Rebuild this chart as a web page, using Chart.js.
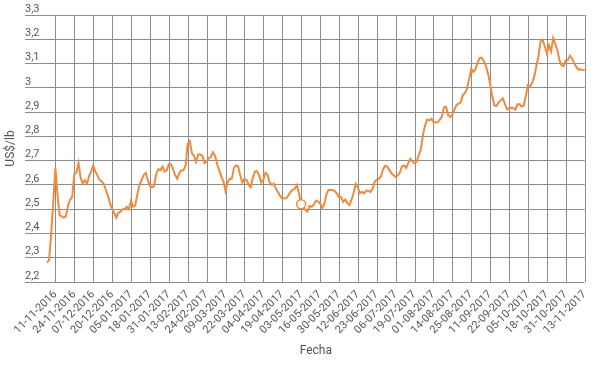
<!DOCTYPE html>
<html>
<head>
<meta charset="utf-8">
<script src="https://cdn.jsdelivr.net/npm/chart.js@4/dist/chart.umd.min.js"></script>
<style>
  body { margin: 0; background: #fff; }
  #wrap { width: 600px; height: 365px; position: relative; }
</style>
</head>
<body>
<div id="wrap"><canvas id="priceChart"></canvas></div>
<script>
// tick labels shown on the x axis (every 9th trading day)
const tickLabels = [
    '11-11-2016', '24-11-2016', '07-12-2016', '20-12-2016', '05-01-2017', '18-01-2017',
    '31-01-2017', '13-02-2017', '24-02-2017', '09-03-2017', '22-03-2017', '04-04-2017',
    '19-04-2017', '03-05-2017', '16-05-2017', '30-05-2017', '12-06-2017', '23-06-2017',
    '06-07-2017', '19-07-2017', '01-08-2017', '14-08-2017', '25-08-2017', '11-09-2017',
    '22-09-2017', '05-10-2017', '18-10-2017', '31-10-2017', '13-11-2017'
];
const firstTick = 4;   // index of the first labelled day
const tickStep = 9;    // days between labels

// daily price, US$/lb
const prices = [
    2.28, 2.29, 2.40, 2.53, 2.67, 2.56, 2.475, 2.47, 2.465, 2.47,
    2.515, 2.54, 2.55, 2.645, 2.65, 2.69, 2.63, 2.605, 2.62, 2.605,
    2.635, 2.655, 2.68, 2.655, 2.64, 2.62, 2.615, 2.605, 2.58, 2.555,
    2.525, 2.50, 2.485, 2.465, 2.485, 2.49, 2.50, 2.50, 2.51, 2.50,
    2.535, 2.51, 2.515, 2.56, 2.60, 2.62, 2.64, 2.65, 2.62, 2.595,
    2.59, 2.595, 2.645, 2.665, 2.66, 2.675, 2.655, 2.66, 2.685, 2.685,
    2.665, 2.64, 2.625, 2.65, 2.66, 2.66, 2.68, 2.77, 2.78, 2.73,
    2.72, 2.695, 2.725, 2.725, 2.72, 2.69, 2.695, 2.71, 2.715, 2.735,
    2.72, 2.685, 2.66, 2.635, 2.615, 2.575, 2.61, 2.625, 2.625, 2.67,
    2.68, 2.677, 2.64, 2.61, 2.625, 2.62, 2.60, 2.59, 2.63, 2.655,
    2.657, 2.64, 2.61, 2.62, 2.65, 2.643, 2.61, 2.60, 2.605, 2.585,
    2.57, 2.555, 2.544, 2.544, 2.546, 2.558, 2.572, 2.58, 2.584, 2.60,
    2.565, 2.52, 2.51, 2.497, 2.49, 2.513, 2.51, 2.517, 2.535, 2.532,
    2.525, 2.505, 2.52, 2.56, 2.579, 2.579, 2.579, 2.575, 2.565, 2.549,
    2.55, 2.53, 2.54, 2.525, 2.517, 2.538, 2.568, 2.604, 2.59, 2.566,
    2.571, 2.565, 2.576, 2.576, 2.57, 2.584, 2.613, 2.622, 2.625, 2.635,
    2.665, 2.679, 2.676, 2.662, 2.648, 2.64, 2.633, 2.64, 2.65, 2.676,
    2.68, 2.67, 2.69, 2.707, 2.696, 2.689, 2.696, 2.723, 2.745, 2.806,
    2.845, 2.869, 2.866, 2.872, 2.86, 2.858, 2.857, 2.869, 2.88, 2.92,
    2.922, 2.887, 2.88, 2.89, 2.91, 2.93, 2.935, 2.94, 2.97, 2.978,
    2.996, 3.035, 3.079, 3.065, 3.075, 3.103, 3.122, 3.124, 3.11, 3.09,
    3.058, 3.015, 2.965, 2.927, 2.925, 2.94, 2.948, 2.957, 2.935, 2.912,
    2.915, 2.919, 2.916, 2.91, 2.932, 2.932, 2.923, 2.927, 2.968, 3.011,
    3.005, 3.021, 3.046, 3.09, 3.13, 3.19, 3.198, 3.171, 3.142, 3.175,
    3.15, 3.205, 3.18, 3.156, 3.114, 3.092, 3.09, 3.113, 3.114, 3.132,
    3.12, 3.102, 3.086, 3.075, 3.076, 3.074, 3.072
];
const markIndex = 121; // highlighted point

const lineColor = '#f08a3c';
const gridColor = '#8c8c8c';
const textColor = '#555';

const isTickDay = i => i >= firstTick && (i - firstTick) % tickStep === 0;
const labels = prices.map((_, i) => isTickDay(i) ? tickLabels[(i - firstTick) / tickStep] : '');

// vertical grid lines only at the labelled days, placed by the x scale
const dayLines = {
    id: 'dayLines',
    beforeDatasetsDraw(chart) {
        const x = chart.scales.x;
        const area = chart.chartArea;
        const g = chart.ctx;
        g.save();
        g.strokeStyle = gridColor;
        g.lineWidth = 1;
        g.beginPath();
        for (let i = 0; i < labels.length; i++) {
            if (!isTickDay(i)) continue;
            const px = Math.round(x.getPixelForValue(i)) + 0.5;
            g.moveTo(px, area.top);
            g.lineTo(px, area.bottom);
        }
        g.stroke();
        g.restore();
    }
};

const ctx = document.getElementById('priceChart').getContext('2d');
new Chart(ctx, {
    type: 'line',
    data: {
        labels: labels,
        datasets: [{
            data: prices,
            borderColor: lineColor,
            borderWidth: 2,
            tension: 0,
            pointRadius: c => c.dataIndex === markIndex ? 4.5 : 0,
            pointBackgroundColor: '#fff',
            pointBorderColor: lineColor,
            pointBorderWidth: 1.5
        }]
    },
    options: {
        responsive: true,
        maintainAspectRatio: false,
        animation: false,
        events: [],
        layout: { padding: { top: 15, right: 9, bottom: 5, left: 0 } },
        plugins: { legend: { display: false }, tooltip: { enabled: false } },
        scales: {
            x: {
                grid: { display: false, drawTicks: false },
                border: { display: false },
                ticks: {
                    autoSkip: false,
                    minRotation: 45,
                    maxRotation: 45,
                    padding: 6,
                    color: textColor,
                    font: { family: 'Roboto', size: 11 },
                    callback: function(v, i) {
                        return isTickDay(i) ? this.getLabelForValue(v) : '';
                    }
                },
                title: {
                    display: true,
                    text: 'Fecha',
                    color: textColor,
                    font: { family: 'Roboto', size: 12 },
                    padding: { top: 2, bottom: 2 }
                },
                afterFit: s => { s.height = 78; }
            },
            y: {
                min: 2.2,
                max: 3.3,
                weight: 0,
                grid: { color: gridColor, tickLength: 22 },
                border: { display: false },
                ticks: {
                    stepSize: 0.1,
                    crossAlign: 'far',
                    labelOffset: -6,
                    color: textColor,
                    font: { family: 'Roboto', size: 11 },
                    callback: v => String(Math.round(v * 10) / 10).replace('.', ',')
                },
                afterFit: s => { s.width = 22; }
            },
            yTitle: {
                position: 'left',
                weight: 1,
                grid: { display: false, drawTicks: false },
                border: { display: false },
                ticks: { display: false },
                title: {
                    display: true,
                    text: 'US$/lb',
                    color: textColor,
                    font: { family: 'Roboto', size: 12 },
                    padding: { top: 4, bottom: 7 }
                },
                afterFit: s => { s.width = 25; }
            }
        }
    },
    plugins: [dayLines]
});
</script>
</body>
</html>
